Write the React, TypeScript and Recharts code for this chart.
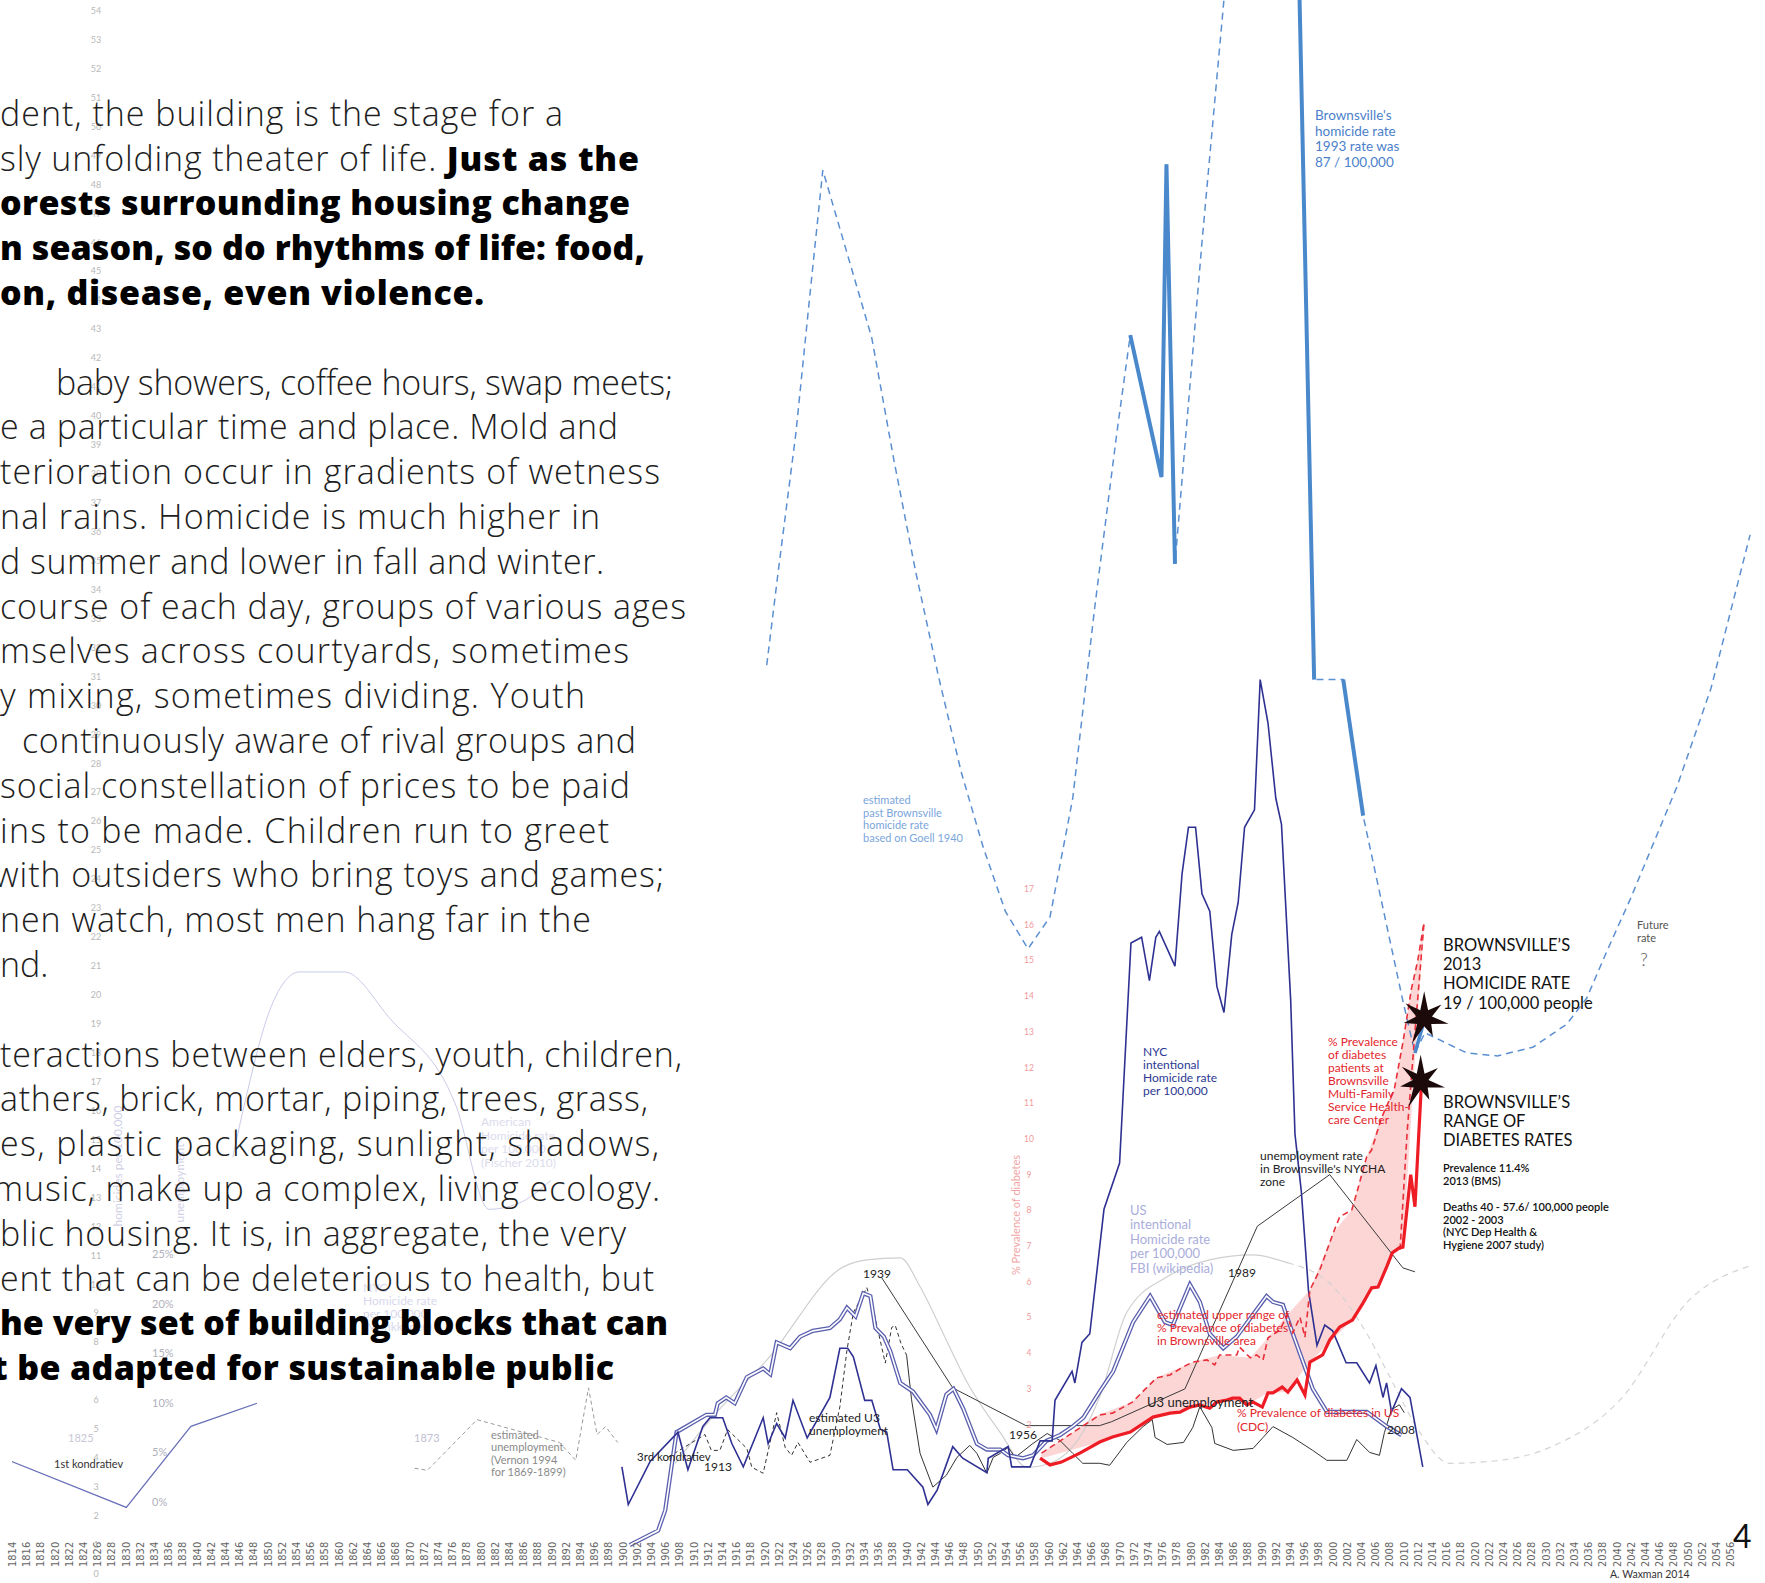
import React from "react";
import { Area, ComposedChart, Line, XAxis, YAxis } from "recharts";

type Pt = [number, number];

const W = 1765;
const H = 1583;
const YEAR_MIN = 1814;
const YEAR_MAX = 2059;

// axis tick labels
const yearTicks: number[] = [];
for (let y = 1814; y <= 2056; y += 2) yearTicks.push(y);
const homicideTicks: number[] = [];
for (let v = 0; v <= 54; v++) homicideTicks.push(v);
const diabetesTicks = [2, 3, 4, 5, 6, 7, 8, 9, 10, 11, 12, 13, 14, 15, 16, 17];
const unemploymentTicks = [0, 5, 10, 15, 20, 25];

// Brownsville homicide rate per 100,000: estimate (dashed) and measured stretches (solid)
const brownsvilleEstimate: Pt[] = [
  [1920.3, 31.4], [1921.9, 34.6], [1924.4, 39.4], [1926.3, 44.0], [1928.2, 48.5],
  [1933.8, 43.8], [1935.1, 42.7], [1938.2, 38.5], [1941.3, 34.6], [1944.5, 31.0],
  [1947.7, 27.7], [1950.8, 25.1], [1953.9, 22.9], [1957.1, 21.6], [1960.2, 22.7],
  [1963.4, 26.8], [1966.5, 33.4], [1969.6, 39.4], [1971.5, 42.8], [1975.9, 37.9],
  [1976.6, 48.7], [1977.8, 34.9], [1981.6, 46.0], [1984.7, 54.4], [1992.5, 87],
  [1997.4, 30.9], [2001.5, 30.9], [2004.3, 26.2], [2009.9, 19.8], [2011.6, 18.0],
  [2013.0, 18.7], [2018.9, 18.0], [2023.2, 17.9], [2028.2, 18.2], [2033.0, 19.0],
  [2035.8, 19.9], [2038.6, 21.5], [2041.9, 23.3], [2048.5, 27.2], [2053.3, 30.6],
  [2058.8, 35.9],
];
const brownsville1970s: Pt[] = [[1971.5, 42.8], [1975.9, 37.9], [1976.6, 48.7], [1977.8, 34.9]];
const brownsville1990s: Pt[] = [[1992.5, 87], [1997.4, 30.9]];
const brownsville2000s: Pt[] = [[2001.5, 30.9], [2004.3, 26.2]];
const brownsville2013: Pt[] = [[2011.6, 18.0], [2013.0, 19.2]];

// NYC intentional homicide rate per 100,000
const nycHomicide: Pt[] = [
  [1899.9, 3.7], [1900.8, 2.4], [1903.9, 3.9], [1907.8, 4.9], [1909.2, 3.6], [1911.3, 5.1],
  [1912.3, 5.4], [1914.1, 5.4], [1915.4, 4.5], [1917.0, 3.7], [1919.8, 5.4], [1920.5, 4.5],
  [1921.7, 5.2], [1922.9, 4.7], [1924.0, 6.0], [1926.0, 4.7], [1929.2, 6.1], [1930.6, 7.8],
  [1931.7, 7.8], [1932.5, 7.5], [1934.1, 6.0], [1935.1, 6.0], [1936.3, 5.0], [1937.2, 4.9],
  [1938.1, 3.6], [1940.1, 3.6], [1942.3, 3.0], [1943.0, 2.4], [1944.3, 2.9], [1946.5, 4.4],
  [1947.9, 4.0], [1951.3, 3.5], [1951.5, 4.0], [1954.3, 4.4], [1954.8, 3.7], [1957.4, 3.7],
  [1958.8, 4.6], [1960.5, 4.6], [1960.9, 6.0], [1963.3, 7.0], [1963.7, 6.6], [1964.7, 8.0],
  [1965.8, 8.3], [1967.8, 12.6], [1970.0, 14.2], [1971.6, 21.8], [1973.1, 22.0], [1974.2, 20.5],
  [1975.1, 22.0], [1975.6, 22.2], [1977.8, 21.0], [1978.8, 24.2], [1979.7, 25.8], [1980.7, 25.8],
  [1981.6, 23.5], [1982.7, 22.9], [1983.7, 20.3], [1984.7, 19.4], [1985.8, 22.1], [1986.7, 23.2],
  [1987.6, 25.8], [1989.0, 26.4], [1989.8, 30.9], [1990.9, 29.4], [1992.0, 26.8], [1992.8, 25.9],
  [1994.1, 19.8], [1994.7, 15.2], [1995.6, 13.2], [1996.6, 9.8], [1997.8, 7.9], [1998.9, 8.6],
  [2000.0, 8.4], [2001.9, 7.3], [2003.4, 7.3], [2005.2, 6.6], [2006.1, 7.2], [2007.1, 6.1],
  [2007.6, 6.6], [2008.3, 5.6], [2009.7, 6.4], [2010.9, 6.1], [2012.7, 3.7],
];

// US intentional homicide rate per 100,000 (FBI)
const usHomicide: Pt[] = [
  [1901.0, 1.0], [1905.0, 1.5], [1906.0, 2.2], [1907.0, 3.9], [1907.6, 4.9], [1911.8, 5.5],
  [1913.0, 5.5], [1913.4, 5.9], [1914.6, 6.1], [1915.8, 5.9], [1917.5, 6.8], [1919.8, 7.1],
  [1920.8, 6.9], [1921.7, 8.0], [1923.6, 7.8], [1925.0, 8.2], [1926.8, 8.4], [1929.2, 8.5],
  [1930.6, 8.8], [1931.6, 9.2], [1932.8, 8.9], [1933.9, 9.7], [1934.9, 9.6], [1935.6, 8.5],
  [1936.8, 8.2], [1937.7, 7.7], [1939.1, 6.6], [1940.9, 6.3], [1943.3, 5.5], [1944.2, 5.0],
  [1945.6, 6.2], [1946.6, 6.4], [1948.0, 5.7], [1949.9, 4.5], [1951.3, 4.3], [1953.2, 4.3],
  [1954.3, 4.1], [1956.4, 4.0], [1957.8, 4.1], [1959.7, 4.6], [1961.6, 4.8], [1963.4, 5.1],
  [1964.9, 5.4], [1967.2, 6.3], [1969.1, 7.0], [1971.9, 8.7], [1974.3, 9.6], [1976.4, 8.7],
  [1977.5, 8.6], [1979.9, 10.0], [1981.3, 9.4], [1982.7, 8.3], [1984.6, 7.8], [1986.5, 8.2],
  [1990.7, 9.6], [1991.6, 9.4], [1993.0, 9.3], [1994.4, 8.3], [1997.2, 6.4], [1999.2, 5.6],
  [2002.0, 5.6], [2004.8, 5.6], [2007.6, 5.1], [2009.7, 4.8],
];

// early homicide series (left, faint)
const earlyHomicide: Pt[] = [[1813.8, 3.9], [1830.1, 2.3], [1839.2, 5.1], [1848.5, 5.9]];
const americanHomicideFischer: Pt[] = [
  [1845.1, 14.4], [1846.9, 16.4], [1850.5, 19.6], [1854.5, 20.8], [1860.8, 20.8], [1867.2, 19.2],
  [1876.5, 16.2], [1881.2, 12.6], [1885.3, 12.8], [1889.9, 13.6],
];

// unemployment (%)
const u3Unemployment: Pt[] = [
  [1940.0, 14.8], [1940.7, 10.3], [1941.9, 4.9], [1943.7, 1.5], [1945.6, 2.7], [1947.1, 4.5],
  [1948.9, 5.7], [1949.9, 4.9], [1951.3, 2.9], [1952.2, 4.5], [1953.2, 4.9], [1954.3, 5.5],
  [1955.3, 4.5], [1957.8, 5.9], [1959.8, 6.9], [1961.6, 6.2], [1963.4, 4.9], [1964.8, 3.9],
  [1967.2, 3.9], [1968.6, 3.7], [1971.0, 6.0], [1973.3, 7.6], [1974.6, 8.3], [1975.0, 6.5],
  [1976.7, 5.8], [1979.0, 6.0], [1980.3, 7.5], [1981.3, 9.6], [1983.0, 7.5], [1983.4, 5.9],
  [1986.0, 5.2], [1988.8, 5.4], [1990.2, 6.5], [1991.6, 7.6], [1994.4, 6.5], [1997.2, 5.2],
  [1999.2, 4.2], [2002.0, 4.2], [2003.4, 6.3], [2005.2, 5.0], [2006.6, 4.7], [2007.3, 7.0],
  [2008.3, 9.3], [2009.4, 9.8], [2010.1, 9.0],
];
const estimatedU3: Pt[] = [
  [1906.4, 4.5], [1911.6, 6.8], [1912.5, 5.2], [1913.7, 5.2], [1914.8, 7.3], [1917.5, 5.4],
  [1918.2, 3.5], [1919.8, 2.9], [1921.7, 9.0], [1922.9, 5.5], [1923.8, 4.7], [1924.7, 6.0],
  [1926.4, 4.0], [1929.2, 4.7], [1930.6, 9.6], [1931.6, 15.3], [1932.5, 19.1], [1934.4, 21.6],
  [1935.3, 19.4], [1937.0, 14.0], [1937.9, 17.6], [1938.4, 17.8], [1939.2, 16.0], [1940.0, 14.8],
];
const vernonUnemployment: Pt[] = [
  [1870.7, 3.4], [1872.5, 3.2], [1875.4, 5.3], [1879.5, 8.3], [1891.1, 6.0], [1893.4, 4.2],
  [1895.2, 11.5], [1896.4, 6.8], [1897.6, 7.6], [1899.3, 6.0],
];
const nychaUnemployment: Pt[] = [
  [1936.5, 22.6], [1946.5, 11.5], [1956.8, 7.7], [1967.2, 7.7], [1968.9, 8.1], [1979.2, 11.4],
  [1989.4, 27.8], [1999.6, 33.0], [2009.9, 23.6], [2011.6, 23.2],
];
// long wave (kondratiev) guide curve, same % scale
const longWave: Pt[] = [
  [1907.4, 3.9], [1913.2, 9.0], [1920.3, 14.3], [1931.1, 23.7], [1934.4, 24.4], [1939.1, 24.6],
  [1941.9, 21.7], [1945.6, 16.3], [1948.5, 12.1], [1953.2, 7.0], [1957.0, 3.5], [1960.2, 3.9],
  [1964.8, 7.0], [1967.2, 10.6], [1971.0, 19.1], [1976.7, 22.7], [1982.7, 24.4], [1988.8, 24.9],
  [1993.7, 24.1],
];
const longWaveFuture: Pt[] = [
  [1993.7, 24.1], [2000.1, 21.7], [2004.8, 17.0], [2008.5, 12.0], [2012.3, 7.0], [2016.5, 3.9],
  [2023.6, 4.2], [2030.6, 5.5], [2040.5, 10.3], [2050.3, 20.4], [2059.2, 23.9],
];

// % prevalence of diabetes
const diabetesUS: Pt[] = [
  [1958.8, 1.06], [1960.2, 0.87], [1961.8, 0.95], [1964.4, 1.2], [1967.2, 1.51], [1969.0, 1.65],
  [1971.5, 1.79], [1974.7, 2.21], [1977.1, 2.32], [1978.5, 2.35], [1979.9, 2.49], [1981.3, 2.55],
  [1982.7, 2.46], [1983.7, 2.63], [1985.1, 2.69], [1985.9, 2.74], [1986.9, 2.74], [1987.9, 2.55],
  [1988.8, 2.63], [1990.1, 2.49], [1990.9, 2.89], [1991.6, 2.89], [1992.9, 3.05], [1993.7, 2.91],
  [1995.0, 3.25], [1996.1, 2.83], [1996.8, 3.75], [1998.6, 3.95], [1999.6, 4.37], [2001.0, 4.73],
  [2002.8, 4.93], [2004.3, 5.41], [2005.5, 5.83], [2006.4, 5.85], [2007.6, 6.41], [2008.4, 6.81],
  [2009.4, 6.95], [2009.9, 6.97], [2011.0, 9.0], [2011.6, 8.1], [2012.5, 11.5],
];
const diabetesUpper: Pt[] = [
  [1959.0, 1.2], [1967.2, 2.27], [1969.0, 2.32], [1971.8, 2.63], [1975.2, 3.31], [1977.1, 3.39],
  [1978.9, 3.61], [1980.3, 3.75], [1982.3, 3.81], [1983.4, 3.67], [1984.1, 3.95], [1986.5, 3.95],
  [1986.9, 4.17], [1988.4, 3.87], [1989.3, 3.95], [1990.2, 3.81], [1990.9, 4.43], [1992.6, 4.65],
  [1993.6, 5.07], [1994.4, 4.57], [1995.4, 5.01], [1996.1, 4.45], [1996.8, 5.77], [1998.2, 6.33],
  [2000.1, 7.37], [2001.0, 7.82], [2002.7, 8.01], [2003.4, 8.49], [2004.8, 9.5], [2005.5, 9.69],
  [2006.9, 10.6], [2008.7, 11.4], [2009.9, 12.7], [2011.1, 14.2], [2012.0, 15.0], [2012.9, 16.1],
];
const diabetesEdge: Pt[] = [[2009.5, 6.9], [2010.5, 10.2], [2011.6, 13.0], [2012.9, 16.1]];
// [year, low, high] band between US and Brownsville upper estimate
const diabetesBand: [number, number, number][] = [
  [1959, 1.06, 1.2], [1967, 1.5, 2.27], [1971.8, 1.8, 2.63], [1975.2, 2.21, 3.31],
  [1980.3, 2.5, 3.75], [1984.1, 2.65, 3.95], [1988.4, 2.6, 3.87], [1990.9, 2.89, 4.43],
  [1993.6, 2.91, 5.07], [1996.8, 3.75, 5.77], [2000.1, 4.4, 7.37], [2002.7, 4.93, 8.01],
  [2004.8, 5.6, 9.5], [2006.9, 6.0, 10.6], [2008.7, 6.85, 11.4], [2009.9, 6.97, 12.7],
  [2011.1, 10.7, 14.2], [2012.0, 13.5, 15.0], [2012.9, 16.1, 16.1],
];

const homicideStar: Pt[] = [[2012.9, 19.2]];
const diabetesStar: Pt[] = [[2012.4, 11.6]];

const rows = (pts: Pt[]) => pts.map(([year, v]) => ({ year, v }));
const bandRows = diabetesBand.map(([year, lo, hi]) => ({ year, range: [lo, hi] }));

const SANS = "Lato, 'Open Sans', sans-serif";
const BODY = "'Open Sans', Lato, sans-serif";
const NARROW = "'Liberation Sans Narrow', 'DejaVu Sans Condensed', sans-serif";

// [x, light text, bold text, right edge (0 = natural width)]
const paragraph: [number, string, string, number][] = [
  [0, "dent, the building is the stage for a", "", 563],
  [0, "sly unfolding theater of life. ", "Just as the", 639],
  [0, "", "orests surrounding housing change", 630],
  [0, "", "n season, so do rhythms of life: food,", 645],
  [0, "", "on, disease, even violence.", 484],
  [0, "", "", 0],
  [56, "baby showers, coffee hours, swap meets;", "", 673],
  [0, "e a particular time and place. Mold and", "", 618],
  [0, "terioration occur in gradients of wetness", "", 660],
  [0, "nal rains. Homicide is much higher in", "", 600],
  [0, "d summer and lower in fall and winter.", "", 604],
  [0, "course of each day, groups of various ages", "", 686],
  [0, "mselves across courtyards, sometimes", "", 629],
  [0, "y mixing, sometimes dividing. Youth", "", 585],
  [22, "continuously aware of rival groups and", "", 636],
  [0, "social constellation of prices to be paid", "", 630],
  [0, "ins to be made.  Children run to greet", "", 609],
  [-6, "with outsiders who bring toys and games;", "", 664],
  [0, "nen watch, most men hang far in the", "", 591],
  [0, "nd.", "", 0],
  [0, "", "", 0],
  [0, "teractions between elders, youth, children,", "", 682],
  [0, "athers, brick, mortar, piping, trees, grass,", "", 648],
  [0, "es, plastic packaging, sunlight, shadows,", "", 659],
  [-7, "music, make up a complex, living ecology.", "", 660],
  [0, "blic housing. It is, in aggregate, the very", "", 626],
  [0, "ent that can be deleterious to health, but", "", 654],
  [0, "", "he very set of building blocks that can", 668],
  [-8, "", "t be adapted for sustainable public", 614],
];

type Note = { x: number; y: number; lines: string[]; size: number; lh?: number; color: string; weight?: number; family?: string };
const notes: Note[] = [
  { x: 1315, y: 115, lines: ["Brownsville's", "homicide rate", "1993 rate was", "87 / 100,000"], size: 13.5, lh: 15.8, color: "#4b7fcb" },
  { x: 863, y: 800, lines: ["estimated", "past Brownsville", "homicide rate", "based on Goell 1940"], size: 11, lh: 12.7, color: "#7aa6dc" },
  { x: 1143, y: 1052, lines: ["NYC", "intentional", "Homicide rate", "per 100,000"], size: 12, lh: 13, color: "#2c3892" },
  { x: 1130, y: 1210, lines: ["US", "intentional", "Homicide rate", "per 100,000", "FBI (wikipedia)"], size: 13, lh: 14.6, color: "#a9addb" },
  { x: 1260, y: 1156, lines: ["unemployment rate", "in Brownsville's NYCHA", "zone"], size: 12, lh: 13, color: "#222" },
  { x: 863, y: 1274, lines: ["1939"], size: 12, color: "#222" },
  { x: 1009, y: 1435, lines: ["1956"], size: 12, color: "#222" },
  { x: 1228, y: 1273, lines: ["1989"], size: 12, color: "#222" },
  { x: 1387, y: 1430, lines: ["2008"], size: 12, color: "#222" },
  { x: 704, y: 1467, lines: ["1913"], size: 12, color: "#222" },
  { x: 637, y: 1457, lines: ["3rd kondratiev"], size: 11.5, color: "#222" },
  { x: 809, y: 1418, lines: ["estimated U3", "unemployment"], size: 12, lh: 13, color: "#222" },
  { x: 1157, y: 1315, lines: ["estimated upper range of", "% Prevalence of diabetes", "in Brownsville area"], size: 12, lh: 13, color: "#e3262d" },
  { x: 1147, y: 1402, lines: ["U3 unemployment"], size: 13, color: "#222" },
  { x: 1237, y: 1413, lines: ["% Prevalence of diabetes in US", "(CDC)"], size: 12, lh: 13.5, color: "#e3262d" },
  { x: 1328, y: 1042, lines: ["% Prevalence", "of diabetes", "patients at", "Brownsville", "Multi-Family", "Service Health-", "care Center"], size: 12, lh: 12.9, color: "#e3262d" },
  { x: 1443, y: 945, lines: ["BROWNSVILLE\u2019S", "2013", "HOMICIDE RATE", "19 / 100,000 people"], size: 16.5, lh: 19.3, color: "#111" },
  { x: 1443, y: 1102, lines: ["BROWNSVILLE\u2019S", "RANGE OF", "DIABETES RATES"], size: 16.5, lh: 19.3, color: "#111" },
  { x: 1443, y: 1168, lines: ["Prevalence 11.4%", "2013 (BMS)"], size: 11, lh: 12.8, color: "#111", weight: 600 },
  { x: 1443, y: 1207, lines: ["Deaths 40 - 57.6/ 100,000 people", "2002 - 2003", "(NYC Dep Health &", "Hygiene 2007 study)"], size: 11, lh: 12.8, color: "#111", weight: 600 },
  { x: 1637, y: 925, lines: ["Future", "rate"], size: 11, lh: 13, color: "#555" },
  { x: 1640, y: 960, lines: ["?"], size: 18, color: "#555", weight: 300 },
  { x: 1610, y: 1574, lines: ["A. Waxman 2014"], size: 10.5, color: "#333" },
  { x: 1733, y: 1537, lines: ["4"], size: 32, color: "#111" },
  { x: 68, y: 1438, lines: ["1825"], size: 11, color: "#c8c8d6" },
  { x: 54, y: 1464, lines: ["1st kondratiev"], size: 11, color: "#333" },
  { x: 414, y: 1438, lines: ["1873"], size: 11, color: "#c0c0d2" },
  { x: 491, y: 1435, lines: ["estimated", "unemployment", "(Vernon 1994", "for 1869-1899)"], size: 11, lh: 12.5, color: "#8a8a8a" },
  { x: 481, y: 1122, lines: ["American", "Homicide rate", "per 100,000", "(Fischer 2010)"], size: 12, lh: 13.5, color: "#dcdcee" },
  { x: 363, y: 1288, lines: ["NYC", "Homicide rate", "per 100,000", "(Monkkonen)"], size: 12, lh: 13, color: "#d8d8ec" },
];

const YearTick = (p: any) => (
  <text
    transform={`translate(${p.x + 4},1567) rotate(-90)`}
    fontSize={11}
    fontFamily={NARROW}
    fill="#666"
  >
    {p.payload.value}
  </text>
);

const Star = (p: any) => {
  const { cx, cy } = p;
  if (cx == null || cy == null) return <g />;
  const radii = [27, 9, 22, 8, 25, 9, 20, 8, 28, 9, 21, 8, 24, 9];
  const pts = radii
    .map((r, i) => {
      const a = (i / radii.length) * Math.PI * 2 - Math.PI / 2;
      return `${cx + r * Math.cos(a)},${cy + r * Math.sin(a)}`;
    })
    .join(" ");
  return <polygon points={pts} fill="#1c0a0a" />;
};

const common = { dot: false, activeDot: false, isAnimationActive: false, dataKey: "v" } as const;

export default function App() {
  return (
    <div style={{ position: "absolute", left: 0, top: 0, width: W, height: H, background: "#fff", overflow: "hidden" }}>
      <ComposedChart width={W} height={H} margin={{ top: 0, right: 13.5, bottom: 0, left: 12 }}>
        <XAxis
          type="number"
          dataKey="year"
          domain={[YEAR_MIN, YEAR_MAX]}
          allowDataOverflow
          ticks={yearTicks}
          interval={0}
          height={9}
          axisLine={false}
          tickLine={false}
          tick={YearTick}
        />
        <YAxis
          yAxisId="hom"
          domain={[0, 54.38]}
          allowDataOverflow
          ticks={homicideTicks}
          interval={0}
          mirror
          axisLine={false}
          tickLine={false}
          tick={(p: any) => (
            <text x={96} y={p.y + 3} textAnchor="middle" fontSize={9} fontFamily={SANS} fill="#b8b8b8">
              {p.payload.value}
            </text>
          )}
        />
        <YAxis
          yAxisId="unemp"
          domain={[-7.26, 151.41]}
          allowDataOverflow
          ticks={unemploymentTicks}
          interval={0}
          mirror
          axisLine={false}
          tickLine={false}
          tick={(p: any) => (
            <text x={152} y={p.y + 4} fontSize={11} fontFamily={SANS} fill="#b0b0bc">
              {`${p.payload.value}%`}
            </text>
          )}
        />
        <YAxis
          yAxisId="diab"
          domain={[-2.185, 41.9]}
          allowDataOverflow
          ticks={diabetesTicks}
          interval={0}
          mirror
          axisLine={false}
          tickLine={false}
          tick={(p: any) => (
            <text x={1029} y={p.y + 3} textAnchor="middle" fontSize={8.5} fontFamily={SANS} fill="#f09a9a">
              {p.payload.value}
            </text>
          )}
        />

        <Area
          data={bandRows}
          dataKey="range"
          yAxisId="diab"
          type="linear"
          stroke="none"
          fill="#fcd3d3"
          fillOpacity={0.95}
          isAnimationActive={false}
          activeDot={false}
        />

        <Line {...common} data={rows(longWave)} yAxisId="unemp" type="monotone" stroke="#cfcfcf" strokeWidth={1.2} />
        <Line {...common} data={rows(longWaveFuture)} yAxisId="unemp" type="monotone" stroke="#d4d4d4" strokeWidth={1.2} strokeDasharray="6 5" />
        <Line {...common} data={rows(americanHomicideFischer)} yAxisId="hom" type="monotone" stroke="#c9cbe8" strokeWidth={1} />
        <Line {...common} data={rows(earlyHomicide)} yAxisId="hom" stroke="#6a70b8" strokeWidth={1.2} />
        <Line {...common} data={rows(vernonUnemployment)} yAxisId="unemp" stroke="#9a9a9a" strokeWidth={1} strokeDasharray="4 3" />
        <Line {...common} data={rows(estimatedU3)} yAxisId="unemp" stroke="#333" strokeWidth={1} strokeDasharray="4 3" />
        <Line {...common} data={rows(nychaUnemployment)} yAxisId="unemp" stroke="#3a3a3a" strokeWidth={1} />
        <Line {...common} data={rows(u3Unemployment)} yAxisId="unemp" stroke="#333" strokeWidth={1} />

        <Line {...common} data={rows(usHomicide)} yAxisId="hom" stroke="#5a5fae" strokeWidth={4.2} />
        <Line {...common} data={rows(usHomicide)} yAxisId="hom" stroke="#ffffff" strokeWidth={1.6} />
        <Line {...common} data={rows(nycHomicide)} yAxisId="hom" stroke="#2e3192" strokeWidth={1.6} />

        <Line {...common} data={rows(brownsvilleEstimate)} yAxisId="hom" stroke="#5b8fd1" strokeWidth={1.5} strokeDasharray="7 5" />
        <Line {...common} data={rows(brownsville1970s)} yAxisId="hom" stroke="#4a88cc" strokeWidth={4} />
        <Line {...common} data={rows(brownsville1990s)} yAxisId="hom" stroke="#4a88cc" strokeWidth={4} />
        <Line {...common} data={rows(brownsville2000s)} yAxisId="hom" stroke="#4a88cc" strokeWidth={4} />

        <Line {...common} data={rows(diabetesUpper)} yAxisId="diab" stroke="#e8303a" strokeWidth={1.6} strokeDasharray="6 4" />
        <Line {...common} data={rows(diabetesEdge)} yAxisId="diab" stroke="#e8303a" strokeWidth={1.6} strokeDasharray="6 4" />
        <Line {...common} data={rows(diabetesUS)} yAxisId="diab" stroke="#ee1c24" strokeWidth={3.2} />

        <Line {...common} data={rows(homicideStar)} yAxisId="hom" stroke="none" dot={Star} />
        <Line {...common} data={rows(diabetesStar)} yAxisId="diab" stroke="none" dot={Star} />
        <Line {...common} data={rows(brownsville2013)} yAxisId="hom" stroke="#4a88cc" strokeWidth={3.5} />
      </ComposedChart>

      <svg width={W} height={H} style={{ position: "absolute", left: 0, top: 0, pointerEvents: "none" }}>
        <text transform="translate(122,1166) rotate(-90)" textAnchor="middle" fontSize={12} fontFamily={SANS} fill="#d0d0e6">
          homicides per 100,000
        </text>
        <text transform="translate(184,1183) rotate(-90)" textAnchor="middle" fontSize={12} fontFamily={SANS} fill="#d0d0e6">
          unemployment
        </text>
        <text transform="translate(1020,1215) rotate(-90)" textAnchor="middle" fontSize={11} fontFamily={SANS} fill="#f2a5a5">
          % Prevalence of diabetes
        </text>

        {notes.map((n, i) => (
          <text key={i} fontSize={n.size} fontFamily={n.family ?? SANS} fill={n.color} fontWeight={n.weight ?? 400}>
            {n.lines.map((l, j) => (
              <tspan key={j} x={n.x} y={n.y + n.size * 0.35 + j * (n.lh ?? n.size * 1.1)}>
                {l}
              </tspan>
            ))}
          </text>
        ))}

        {paragraph.map(([dx, light, bold, right], i) =>
          light || bold ? (
            <text
              key={`p${i}`}
              x={dx}
              y={113.7 + i * 44.8 + 12}
              fontSize={34}
              fontFamily={BODY}
              fill="#1e1e1e"
              {...(right > 0 ? { textLength: right - dx, lengthAdjust: "spacing" } : {})}
            >
              {light && <tspan fontWeight={300}>{light}</tspan>}
              {bold && (
                <tspan fontWeight={800} fill="#000">
                  {bold}
                </tspan>
              )}
            </text>
          ) : null
        )}
      </svg>
    </div>
  );
}
